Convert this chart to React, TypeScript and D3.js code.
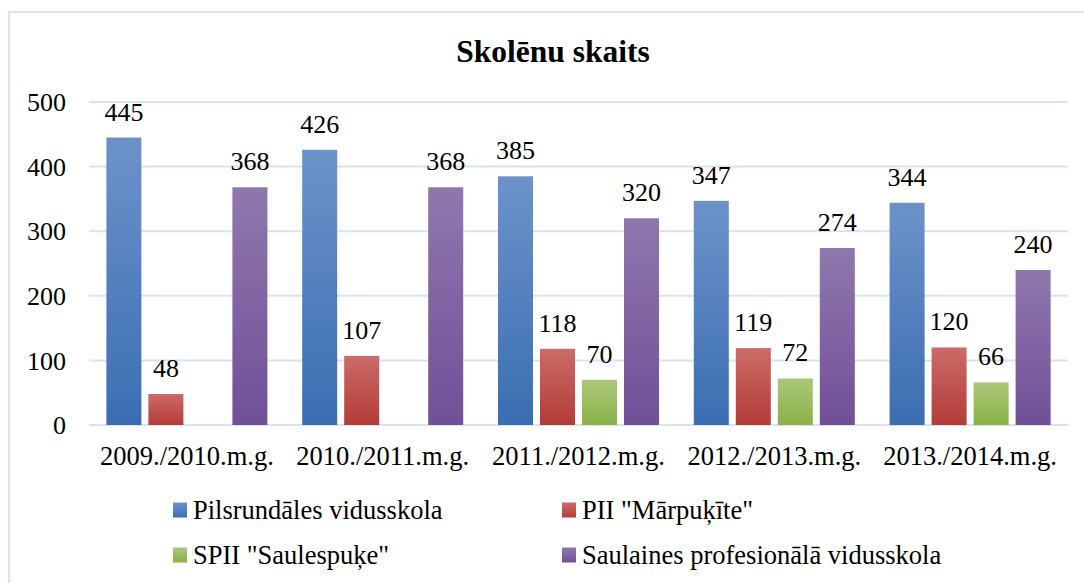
import * as d3 from 'd3';
import React from 'react';

// chart values
const years = ['2009./2010.m.g.', '2010./2011.m.g.', '2011./2012.m.g.', '2012./2013.m.g.', '2013./2014.m.g.'];
const seriesNames = ['Pilsrundāles vidusskola', 'PII "Mārpuķīte"', 'SPII "Saulespuķe"', 'Saulaines profesionālā vidusskola'];
const pilsrundale = [445, 426, 385, 347, 344];
const marpukite = [48, 107, 118, 119, 120];
const saulespuke: (number | null)[] = [null, null, 70, 72, 66];
const saulaine = [368, 368, 320, 274, 240];
const yTicks = [0, 100, 200, 300, 400, 500];

const seriesValues = [pilsrundale, marpukite, saulespuke, saulaine];

// top / bottom colours of each bar gradient
const gradients = [
  ['#6d92ca', '#3a6eb2'],
  ['#cc6b68', '#b43b37'],
  ['#abc77b', '#8bb144'],
  ['#8f78ae', '#714f97'],
];

const W = 1084;
const H = 583;
const font = "'Liberation Serif', 'Times New Roman', Times, serif";
const gridColor = '#d7e3f2';

const App = () => {
  const x0 = d3.scaleBand<string>().domain(years).range([89, 1068]);
  const x1 = d3
    .scaleBand<string>()
    .domain(seriesNames)
    .range([0, x0.bandwidth()])
    .paddingInner(1 / 6)
    .paddingOuter(0.414);
  const y = d3.scaleLinear().domain([0, 500]).range([425, 102]);

  const legendPos = [
    [173, 510],
    [562, 510],
    [173, 555],
    [562, 555],
  ];

  const txt = { fontFamily: font, fill: '#000' };

  return (
    <svg width={W} height={H} style={{ position: 'absolute', left: 0, top: 0, background: '#fff', fontFamily: font }}>
      <defs>
        {gradients.map((g, i) => (
          <linearGradient key={i} id={`grad${i}`} x1="0" y1="0" x2="0" y2="1">
            <stop offset="0%" stopColor={g[0]} />
            <stop offset="100%" stopColor={g[1]} />
          </linearGradient>
        ))}
      </defs>

      {/* outer frame, runs off the right and bottom edges */}
      <rect x={9} y={12} width={W + 20} height={H + 20} fill="#fff" stroke={gridColor} strokeWidth={2} />

      <text x={553} y={62} textAnchor="middle" style={{ ...txt, fontSize: 31.5, fontWeight: 'bold' }}>
        Skolēnu skaits
      </text>

      {yTicks.map(t => (
        <g key={t}>
          <line x1={89} x2={1068} y1={y(t)} y2={y(t)} stroke={gridColor} strokeWidth={2} />
          <text x={66} y={y(t)} dy="0.35em" textAnchor="end" style={{ ...txt, fontSize: 26 }}>
            {t}
          </text>
        </g>
      ))}

      {years.map((yr, yi) => (
        <g key={yr} transform={`translate(${x0(yr)},0)`}>
          {seriesNames.map((s, si) => {
            const v = seriesValues[si][yi];
            if (v == null) return null;
            const bx = x1(s)!;
            return (
              <g key={s}>
                <rect x={bx} y={y(v)} width={x1.bandwidth()} height={y(0) - y(v)} fill={`url(#grad${si})`} />
                <text x={bx + x1.bandwidth() / 2} y={y(v) - 17} textAnchor="middle" style={{ ...txt, fontSize: 26 }}>
                  {v}
                </text>
              </g>
            );
          })}
          <text x={x0.bandwidth() / 2} y={465} textAnchor="middle" style={{ ...txt, fontSize: 26.5 }}>
            {yr}
          </text>
        </g>
      ))}

      {seriesNames.map((s, i) => (
        <g key={s} transform={`translate(${legendPos[i][0]},${legendPos[i][1]})`}>
          <rect x={0} y={-7.5} width={14} height={15} fill={`url(#grad${i})`} />
          <text x={20} y={0} dy="0.33em" style={{ ...txt, fontSize: 26.5 }}>
            {s}
          </text>
        </g>
      ))}
    </svg>
  );
};

export default App;
